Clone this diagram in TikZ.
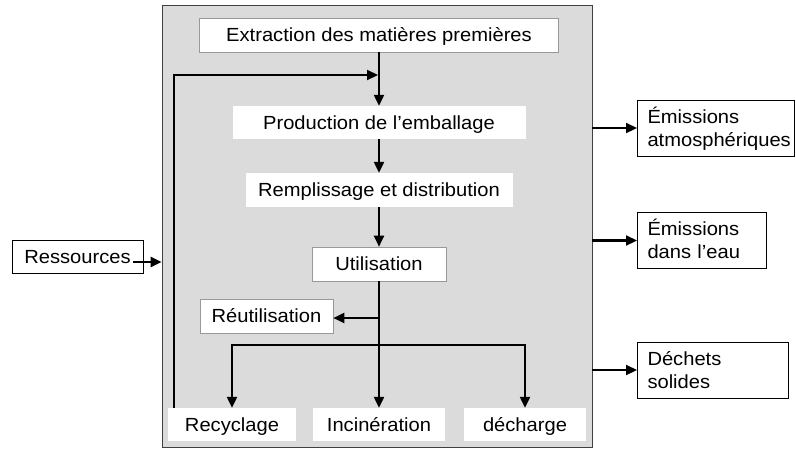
\documentclass[tikz,border=0pt]{standalone}
\usepackage{fontspec}
\setmainfont{Liberation Sans}[FakeStretch=1.06]
\usetikzlibrary{arrows.meta}
\begin{document}
\begin{tikzpicture}[x=1pt,y=-1pt,
  every node/.style={font=\fontsize{19}{23}\selectfont, inner sep=0pt, text height=13.6, text depth=0},
  wbox/.style={fill=white, minimum height=34},
  fbox/.style={wbox, draw=black!40, line width=0.6pt},
  obox/.style={draw=black, line width=1pt, fill=white},
  ebox/.style={obox, align=left, inner xsep=10, minimum height=56, anchor=west, text depth=23},
  arr/.style={line width=2.2pt, -{Triangle[length=11pt,width=10pt]}}]
\useasboundingbox (0,0) rectangle (796,448);
\node[fill=black!14, draw=black!75, line width=0.8pt, minimum width=430, minimum height=442] (main) at (377,226) {};
\node[fbox, minimum width=359] (ext) at (379,35) {Extraction des matières premières};
\node[wbox, minimum width=293, minimum height=33] (prod) at (379,122.5) {Production de l’emballage};
\node[wbox, minimum width=267] (rem) at (379,190) {Remplissage et distribution};
\node[fbox, minimum width=134] (util) at (379,264) {Utilisation};
\node[fbox, minimum width=133] (reut) at (266.5,316) {Réutilisation};
\node[wbox, minimum width=128, minimum height=33] (recy) at (232,424.5) {Recyclage};
\node[wbox, minimum width=132, minimum height=33] (inc) at (379,424.5) {Incinération};
\node[wbox, minimum width=122, minimum height=33] (dech) at (525,424.5) {décharge};
\node[obox, minimum width=131, minimum height=33] (res) at (77.5,256.5) {Ressources};
\node[ebox, text width=137] (emA) at (637,128) {Émissions\\atmosphériques};
\node[ebox, text width=109] (emB) at (637,240.5) {Émissions\\dans l’eau};
\node[ebox, text width=131] (emC) at (637,370) {Déchets\\solides};
% main flow
\draw[arr] (ext) -- (prod);
\draw[arr] (prod) -- (rem);
\draw[arr] (rem) -- (util);
\draw[arr] (util) -- (inc);
\coordinate (rj) at (379,318);
\draw[arr] (rj) -- (rj -| reut.east);
\coordinate (br) at (379,345);
\draw[arr] (br) -| (recy.north);
\draw[arr] (br) -| (dech.north);
% feedback
\coordinate (fbs) at (174,408);
\coordinate (fbt) at (378,75);
\draw[arr] (fbs) |- (fbt);
% inputs / outputs
\coordinate (rs) at (133,262);
\draw[arr] (rs) -- (rs -| main.west);
\draw[arr] (main.east |- emA.west) -- (emA.west);
\draw[arr] (main.east |- emB.west) -- (emB.west);
\draw[arr] (main.east |- emC.west) -- (emC.west);
\end{tikzpicture}
\end{document}
